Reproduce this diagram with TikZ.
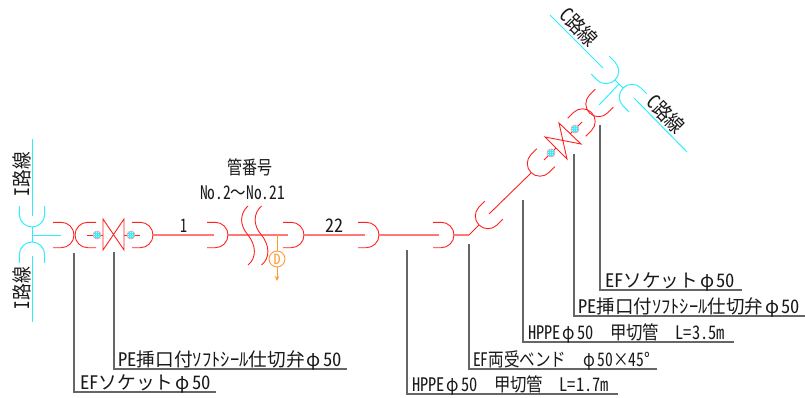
\documentclass[tikz,border=0pt]{standalone}
\usepackage{fontspec}
\usepackage{graphicx}
\usetikzlibrary{arrows.meta}
\setmainfont{Noto Sans CJK JP}
\newfontfamily\hwf[CharacterWidth=Half]{Noto Sans CJK JP}
\newcommand\hw[1]{{\hwf #1}}
\newcommand\fitw[2]{\resizebox{#1pt}{\height}{#2}}
\newcommand\phic{\makebox[1em]{φ}}
\definecolor{pipered}{HTML}{FF2020}
\definecolor{pipesalmon}{HTML}{FF7878}
\definecolor{linecyan}{HTML}{30EEFF}
\definecolor{ballfill}{HTML}{C4F6FF}
\definecolor{leadgray}{HTML}{666666}
\definecolor{dorange}{HTML}{FF9A30}
\newcommand\sock[4]{\draw[#1,shift={(#2,#3)},rotate=#4] (-21,-12.7) -- (-12.7,-12.7) .. controls (-5.7,-12.7) and (0,-7) .. (0,0) .. controls (0,7) and (-5.7,12.7) .. (-12.7,12.7) -- (-21,12.7);}
\newcommand\ball[2]{\fill[ballfill] (#1,#2) circle (4);
\begin{scope}\clip (#1,#2) circle (4);
\draw[linecyan,line width=0.35pt,shift={(#1,#2)}] (-2,-4)--(-2,4) (0,-4)--(0,4) (2,-4)--(2,4) (-4,-2)--(4,-2) (-4,0)--(4,0) (-4,2)--(4,2);
\end{scope}\draw[pipesalmon!80,line width=0.6pt] (#1,#2) circle (4);}
\tikzset{
 redln/.style={pipered,line width=0.9pt},
 pipeln/.style={pipesalmon,line width=1.5pt},
 cyanln/.style={linecyan,line width=1pt},
 leadln/.style={leadgray,line width=1.1pt},
 lbl/.style={inner sep=0pt,outer sep=0pt,anchor=base west,font=\fontsize{18.67}{20}\selectfont,text=black!90},
 routecap/.style={inner sep=0pt,outer sep=0pt,anchor=center,font=\fontsize{20}{22}\selectfont,text=black!90},
}
\begin{document}
\begin{tikzpicture}[x=1pt,y=-1pt]
\useasboundingbox (0,0) rectangle (805,398);
% I line
\draw[cyanln] (32,139) -- (32,216);
\draw[cyanln] (32,256) -- (32,322);
\sock{cyanln}{32}{227}{270}
\sock{cyanln}{32}{242}{90}
\draw[cyanln] (32,227) -- (32,242);
\draw[cyanln] (32,235) -- (61,235);
% first sockets and valve
\sock{redln}{74}{235}{0}
\sock{redln}{75}{235}{180}
\draw[redln] (87,235) -- (103,235);
\ball{97}{235}
\draw[redln] (103,219) -- (124,250) -- (124,219) -- (103,250) -- cycle;
\draw[redln] (124,235) -- (140,235);
\ball{131}{235}
\sock{redln}{153}{235}{0}
% straight pipes
\draw[pipeln] (153,235) -- (214,235);
\sock{redln}{228}{235}{0}
\draw[pipeln] (228,235) -- (288,235);
\sock{redln}{304}{235}{0}
\draw[pipeln] (304,235) -- (365,235);
\sock{redln}{379}{235}{0}
\draw[pipeln] (379,235) -- (439,235);
\sock{redln}{454}{235}{0}
\draw[pipeln] (454,235) -- (469,235);
% breaks
\foreach \d in {0,13.5}{
\draw[redln,xshift=\d] (248,206) .. controls (240,213) and (239,225) .. (248,235) .. controls (256,245) and (257,258) .. (248,265);
}
% drain
\node[circle,draw=dorange,line width=0.9pt,minimum size=16pt,inner sep=0pt,text=dorange,font=\fontsize{14}{15}\selectfont] (drain) at (277,259) {\hw{D}};
\coordinate (dtop) at (277,235);
\coordinate (dend) at (277,281);
\draw[dorange,line width=0.9pt] (dtop) -- (drain);
\draw[dorange,line width=0.9pt,-{Stealth[length=5pt,width=4.5pt]}] (drain) -- (dend);
% elbow and diagonal
\draw[redln] (469,235) -- (479,225);
\sock{redln}{479}{225}{225}
\draw[redln] (489,214) -- (531,173);
\sock{redln}{531}{172.5}{225}
\draw[redln] (544,160) -- (556,148);
\ball{551}{153}
\draw[redln] (545,137) -- (581,144) -- (559,123) -- (567,159) -- cycle;
\draw[redln] (570,134) -- (582,122);
\ball{575}{129}
\sock{redln}{591.5}{112.5}{45}
\sock{redln}{589.5}{113}{225}
% C line
\draw[cyanln] (550,15) -- (603,68);
\draw[cyanln] (634,98) -- (687,152);
\sock{cyanln}{615}{80}{-45}
\sock{cyanln}{623}{88}{135}
\draw[cyanln] (615,80) -- (623,88);
\draw[cyanln] (619,84) -- (599,105);
% leaders
\draw[leadln] (74,253) -- (74,392) -- (216,392);
\draw[leadln] (114,252) -- (114,369) -- (347,369);
\draw[leadln] (407,250) -- (407,394) -- (618,394);
\draw[leadln] (469,244) -- (469,369) -- (657,369);
\draw[leadln] (523,200) -- (523,342) -- (734,342);
\draw[leadln] (574,154) -- (574,316) -- (805,316);
\draw[leadln] (600,125) -- (600,290) -- (742,290);
% labels
\node[lbl] (t1) at (80,389) {\fitw{131}{\hw{EF}ソケット\phic\hw{50}}};
\node[lbl] (t2) at (118,366) {\fitw{224}{\hw{PE}挿口付ｿﾌﾄｼｰﾙ仕切弁\phic\hw{50}}};
\node[lbl] (t3) at (412,391) {\fitw{197}{\hw{HPPE}\phic\hw{50}　甲切管　\hw{L=1.7m}}};
\node[lbl] (t4) at (473,366) {\fitw{177}{\hw{EF}両受ベンド　\phic\hw{50×45°}}};
\node[lbl] (t5) at (528,339) {\fitw{197}{\hw{HPPE}\phic\hw{50}　甲切管　\hw{L=3.5m}}};
\node[lbl] (t6) at (578,313) {\fitw{222}{\hw{PE}挿口付ｿﾌﾄｼｰﾙ仕切弁\phic\hw{50}}};
\node[lbl] (t7) at (605,287) {\fitw{130}{\hw{EF}ソケット\phic\hw{50}}};
\node[lbl] (n1) at (180,232) {\fitw{7}{\hw{1}}};
\node[lbl] (n22) at (325,232) {\fitw{18}{\hw{22}}};
\node[lbl] (k1) at (227.5,174) {\fitw{45}{管番号}};
\node[lbl] (k2) at (200,199) {\fitw{85}{\hw{No.2}～\hw{No.21}}};
\node[routecap,rotate=90] (i1) at (22,174) {\fitw{44}{\hw{I}路線}};
\node[routecap,rotate=90] (i2) at (22,288) {\fitw{42}{\hw{I}路線}};
\node[routecap,rotate=-45] (c1) at (579,27) {\fitw{44}{\hw{C}路線}};
\node[routecap,rotate=-45] (c2) at (666,114) {\fitw{44}{\hw{C}路線}};
\end{tikzpicture}
\end{document}
